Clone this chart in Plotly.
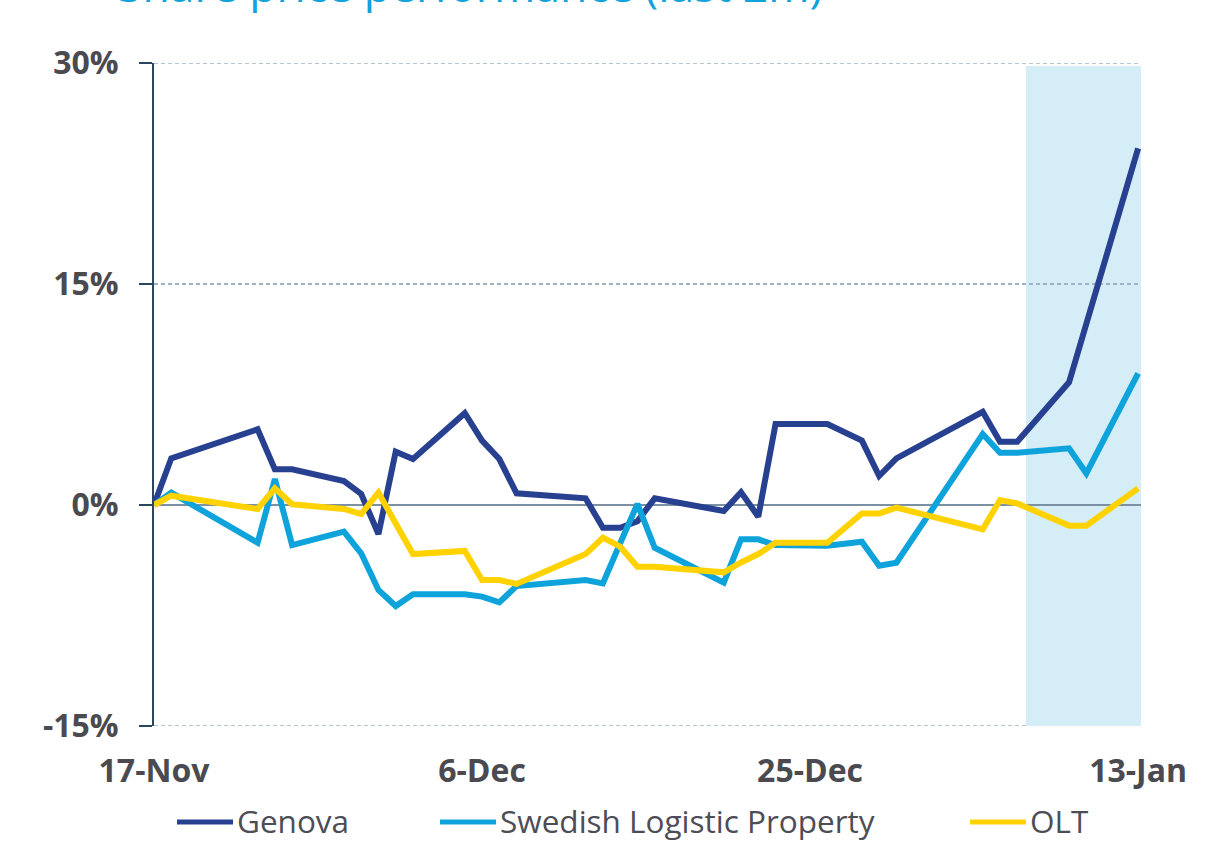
import plotly.graph_objects as go

# ---- data ----
dates = [
    "2020-11-17", "2020-11-18", "2020-11-23", "2020-11-24", "2020-11-25",
    "2020-11-28", "2020-11-29", "2020-11-30", "2020-12-01", "2020-12-02",
    "2020-12-05", "2020-12-06", "2020-12-07", "2020-12-08", "2020-12-12",
    "2020-12-13", "2020-12-14", "2020-12-15", "2020-12-16", "2020-12-20",
    "2020-12-21", "2020-12-22", "2020-12-23", "2020-12-26", "2020-12-28",
    "2020-12-29", "2020-12-30", "2021-01-04", "2021-01-05", "2021-01-06",
    "2021-01-09", "2021-01-10", "2021-01-13",
]
genova = [
    0.0, 3.17, 5.14, 2.42, 2.42,
    1.63, 0.75, -1.97, 3.62, 3.12,
    6.23, 4.37, 3.12, 0.79, 0.45,
    -1.54, -1.54, -1.1, 0.45, -0.41,
    0.86, -0.79, 5.5, 5.5, 4.37,
    1.97, 3.17, 6.33, 4.3, 4.3,
    8.33, 12.3, 24.2,
]
slp = [
    0.0, 0.84, -2.56, 1.76, -2.72,
    -1.81, -3.28, -5.77, -6.86, -6.06,
    -6.06, -6.22, -6.61, -5.5, -5.09,
    -5.32, -2.6, 0.07, -2.9, -5.27,
    -2.33, -2.33, -2.72, -2.76, -2.49,
    -4.12, -3.92, 4.82, 3.55, 3.55,
    3.85, 2.15, 8.94,
]
olt = [
    0.0, 0.63, -0.27, 1.13, 0.05,
    -0.27, -0.61, 0.84, -1.25, -3.33,
    -3.12, -5.09, -5.09, -5.36, -3.33,
    -2.22, -2.83, -4.19, -4.19, -4.57,
    -3.9, -3.33, -2.56, -2.56, -0.57,
    -0.57, -0.18, -1.65, 0.34, 0.11,
    -1.4, -1.4, 1.13,
]
series_names = ["Genova", "Swedish Logistic Property", "OLT"]
series_values = [genova, slp, olt]
series_colors = ["#27408f", "#0fa3db", "#ffd200"]

y_tickvals = [-15, 0, 15, 30]
y_ticktext = ["-15%", "0%", "15%", "30%"]
x_tickvals = ["2020-11-17", "2020-12-06", "2020-12-25", "2021-01-13"]
x_ticktext = ["17-Nov", "6-Dec", "25-Dec", "13-Jan"]

title_text = "Share price performance (last 2m)"
highlight_start = "2021-01-06 12:00"
highlight_end = "2021-01-13 06:00"

# ---- figure ----
W, H = 1225, 842
L, R, T, B = 154, 84, 63, 116
pw, ph = W - L - R, H - T - B

GRID_COLOR = "#9fb2c4"
GRID_DASH = "4px,3px"
AXIS_COLOR = "#2b4660"
TEXT_COLOR = "#4a4a50"


def px_x(p):
    return (p - L) / pw


def px_y(p):
    return (H - B - p) / ph


fig = go.Figure()
for name, vals, col in zip(series_names, series_values, series_colors):
    fig.add_trace(go.Scatter(
        x=dates, y=vals, mode="lines", name=name,
        line=dict(color=col, width=6),
        showlegend=False,
    ))

# highlighted period
fig.add_shape(type="rect", xref="x", yref="y",
              x0=highlight_start, x1=highlight_end, y0=-15, y1=29.8,
              fillcolor="#d5edf7", line=dict(width=0), layer="below")

# gridlines at the range edges (Plotly omits edge gridlines)
for gv in (y_tickvals[0], y_tickvals[-1]):
    fig.add_shape(type="line", xref="paper", yref="y",
                  x0=0, x1=1, y0=gv, y1=gv,
                  line=dict(color=GRID_COLOR, width=1.6, dash=GRID_DASH),
                  layer="between")

# custom legend
legend_y = px_y(820)
legend_x = [(177, 233), (440, 496), (970, 1026)]
for (x0, x1), name, col in zip(legend_x, series_names, series_colors):
    fig.add_shape(type="line", xref="paper", yref="paper",
                  x0=px_x(x0), x1=px_x(x1), y0=px_y(822), y1=px_y(822),
                  line=dict(color=col, width=5))
    fig.add_annotation(xref="paper", yref="paper", x=px_x(x1 + 2), y=legend_y,
                       xanchor="left", yanchor="middle", showarrow=False,
                       text=name,
                       font=dict(family="Open Sans", size=31.5, color="#4d4d55"))

# title (cut off at top in the reference)
fig.add_annotation(xref="paper", yref="paper", x=px_x(116), y=px_y(-15),
                   xanchor="left", yanchor="middle", showarrow=False,
                   text=title_text,
                   font=dict(family="Open Sans", size=44.5, color="#12a2dc"))

fig.update_layout(
    width=W, height=H,
    margin=dict(l=L, r=R, t=T, b=B, pad=0),
    paper_bgcolor="white", plot_bgcolor="white",
    showlegend=False,
    font=dict(family="Open Sans", color=TEXT_COLOR),
)
fig.update_xaxes(
    type="date",
    range=["2020-11-17 00:00", "2021-01-13 04:00"],
    tickvals=x_tickvals, ticktext=x_ticktext,
    tickfont=dict(family="Open Sans", size=32, color=TEXT_COLOR, weight="bold"),
    showgrid=False, zeroline=False, showline=False, ticks="",
    ticklabelstandoff=23,
)
fig.update_yaxes(
    range=[-15, 30],
    tickvals=y_tickvals, ticktext=y_ticktext,
    tickfont=dict(family="Open Sans", size=32, color=TEXT_COLOR, weight="bold"),
    showline=True, linecolor=AXIS_COLOR, linewidth=2,
    ticks="outside", ticklen=13, tickwidth=2, tickcolor=AXIS_COLOR,
    ticklabelstandoff=14,
    showgrid=True, gridcolor=GRID_COLOR, gridwidth=1.6, griddash=GRID_DASH,
    zeroline=True, zerolinecolor="#7b90a2", zerolinewidth=2,
)

fig.write_html("out.html",
               config={"displayModeBar": False},
               post_script="document.body.style.margin='0';document.body.style.overflow='hidden';")
